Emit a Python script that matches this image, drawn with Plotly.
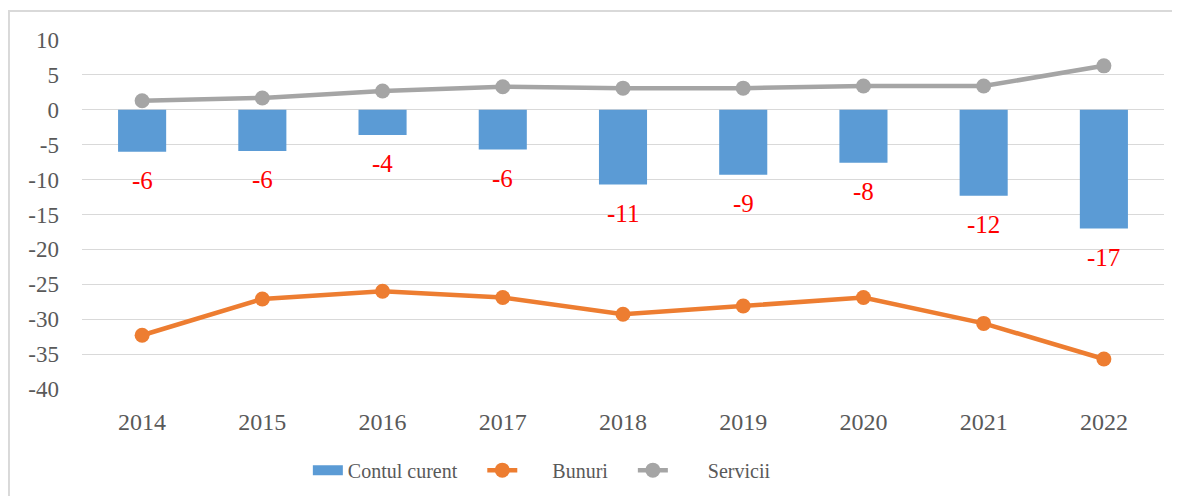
import plotly.graph_objects as go

years = ["2014", "2015", "2016", "2017", "2018", "2019", "2020", "2021", "2022"]
contul_curent = [-6.0, -5.9, -3.6, -5.7, -10.7, -9.3, -7.6, -12.3, -17.0]
contul_labels = ["-6", "-6", "-4", "-6", "-11", "-9", "-8", "-12", "-17"]
bunuri = [-32.3, -27.1, -26.0, -26.9, -29.3, -28.1, -26.9, -30.6, -35.7]
servicii = [1.3, 1.7, 2.7, 3.3, 3.1, 3.1, 3.4, 3.4, 6.3]
y_ticks = [10, 5, 0, -5, -10, -15, -20, -25, -30, -35, -40]
y_ticktext = ["10", "5", "0", "-5", "-10", "-15", "-20", "-25", "-30", "-35", "-40"]

FONT = "Liberation Serif"
NB = "\u00a0"

fig = go.Figure()
fig.add_trace(go.Bar(
    x=years, y=contul_curent, name="Contul curent", showlegend=False,
    marker=dict(color="#5b9bd5", line=dict(width=0)),
    width=0.4,
))
# legend entry for the bars (wide rectangle look)
fig.add_trace(go.Scatter(
    x=[None], y=[None], name="Contul curent" + NB * 4, mode="lines",
    line=dict(color="#5b9bd5", width=14),
))
fig.add_trace(go.Scatter(
    x=years, y=bunuri, name=NB * 6 + "Bunuri" + NB * 4, mode="lines+markers",
    line=dict(color="#ed7d31", width=4.5),
    marker=dict(color="#ed7d31", size=15),
))
fig.add_trace(go.Scatter(
    x=years, y=servicii, name=NB * 7 + "Servicii", mode="lines+markers",
    line=dict(color="#a5a5a5", width=4.5),
    marker=dict(color="#a5a5a5", size=15),
))

# data labels under the bars (category index positions on the category axis)
annotations = [
    dict(x=i, y=v, xref="x", yref="y", text=lab, showarrow=False,
         yanchor="middle", yshift=-29,
         font=dict(color="#ff0000", size=25, family=FONT))
    for i, (v, lab) in enumerate(zip(contul_curent, contul_labels))
]

fig.update_layout(
    width=1164, height=488,
    margin=dict(l=74, r=8, t=32, b=106),
    paper_bgcolor="white", plot_bgcolor="white",
    font=dict(family=FONT, size=20, color="#595959"),
    showlegend=True,
    legend=dict(orientation="h", x=0.425, xanchor="center", y=-0.229, yanchor="middle",
                font=dict(size=20, color="#595959"), traceorder="normal"),
    annotations=annotations,
    shapes=[
        dict(type="line", xref="paper", yref="paper", x0=-0.0684, x1=1.01, y0=1.083, y1=1.083,
             line=dict(color="#d9d9d9", width=2)),
        dict(type="line", xref="paper", yref="paper", x0=-0.0675, x1=-0.0675, y0=1.083, y1=-0.35,
             line=dict(color="#d9d9d9", width=2)),
    ],
)
fig.update_xaxes(
    type="category", range=[-0.5, 8.5], showgrid=False, showline=False, zeroline=False,
    ticks="", ticklabelstandoff=16, tickfont=dict(size=24, color="#595959"),
)
fig.update_yaxes(
    range=[-40, 10], tickvals=y_ticks, ticktext=y_ticktext,
    showgrid=True, gridcolor="#d9d9d9", gridwidth=1,
    zeroline=True, zerolinecolor="#d9d9d9", zerolinewidth=1, showline=False,
    ticks="", ticklabelstandoff=22, tickfont=dict(size=23, color="#595959"),
)

fig.write_html("out.html")
